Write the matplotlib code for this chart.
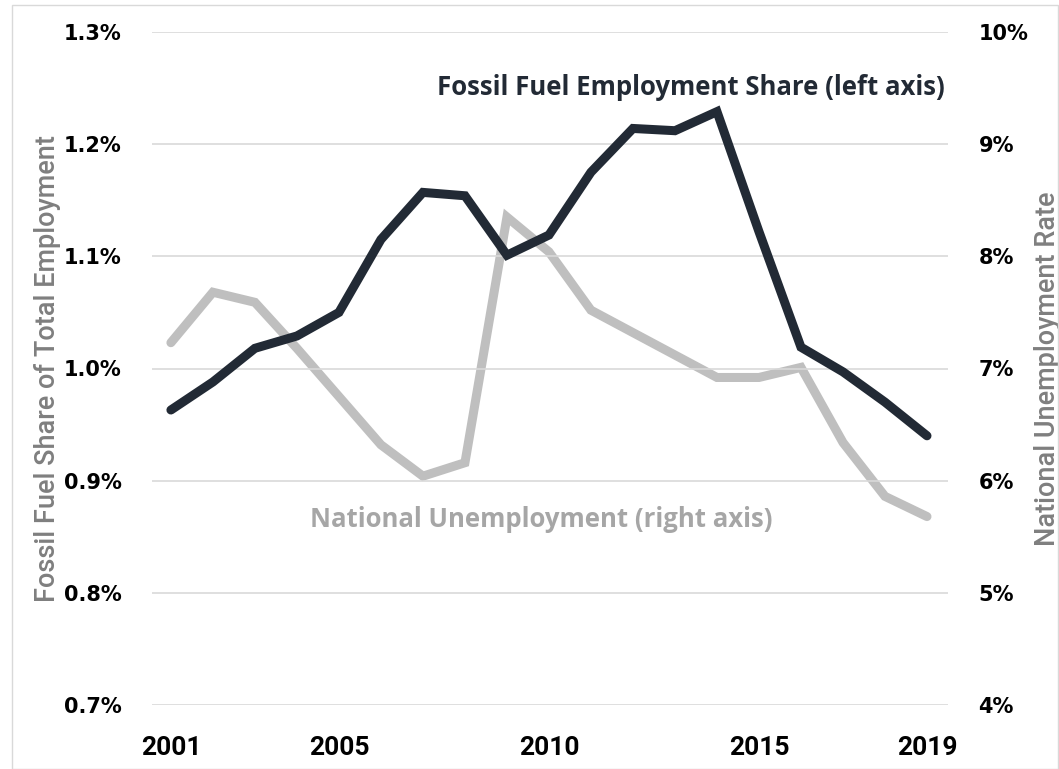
import matplotlib.pyplot as plt
from matplotlib.patches import Rectangle
from matplotlib.ticker import FuncFormatter

# data
years = list(range(2001, 2020))
fossil_share = [0.963, 0.988, 1.018, 1.029, 1.050, 1.115, 1.157, 1.154, 1.101, 1.119,
                1.175, 1.214, 1.212, 1.229, 1.122, 1.019, 0.997, 0.970, 0.940]
unemployment = [7.23, 7.68, 7.59, 7.18, 6.75, 6.32, 6.04, 6.16, 8.35, 8.04,
                7.52, 7.32, 7.12, 6.92, 6.92, 7.01, 6.34, 5.86, 5.68]
xticks = [2001, 2005, 2010, 2015, 2019]
left_ticks = [0.7, 0.8, 0.9, 1.0, 1.1, 1.2, 1.3]
right_ticks = [4, 5, 6, 7, 8, 9, 10]

dark = '#222a35'
light = '#bfbfbf'
label_grey = '#7f7f7f'

fig = plt.figure(figsize=(10.59, 7.69), dpi=100, facecolor='white')
# chart area border
fig.patches.append(Rectangle((12 / 1059, 0), 1 - 13 / 1059, 1 - 5 / 769,
                             transform=fig.transFigure, fill=False,
                             ec='#d9d9d9', lw=1))

ax1 = fig.add_axes([152 / 1059, 1 - 705 / 769, (948 - 152) / 1059, (705 - 32) / 769])
ax2 = ax1.twinx()

ax1.set_xlim(2000.55, 2019.5)
ax1.set_ylim(0.7, 1.3)
ax2.set_ylim(4, 10)

for y in left_ticks:
    ax1.axhline(y, color='#d9d9d9', lw=1.2, zorder=0)

ax2.plot(years, unemployment, color=light, lw=6.5, solid_capstyle='round',
         solid_joinstyle='miter', zorder=2)
ax1.plot(years, fossil_share, color=dark, lw=6.5, solid_capstyle='round',
         solid_joinstyle='miter', zorder=3)
ax1.set_zorder(ax2.get_zorder() + 1)
ax1.patch.set_visible(False)

for a in (ax1, ax2):
    for s in a.spines.values():
        s.set_visible(False)
    a.tick_params(length=0)

ax1.set_yticks(left_ticks)
ax1.yaxis.set_major_formatter(FuncFormatter(lambda v, p: f'{v:.1f}%'))
ax2.set_yticks(right_ticks)
ax2.yaxis.set_major_formatter(FuncFormatter(lambda v, p: f'{v:.0f}%'))
ax1.tick_params(axis='y', pad=22)
ax2.tick_params(axis='y', pad=22)
for lab in ax1.get_yticklabels() + ax2.get_yticklabels():
    lab.set_fontfamily('DejaVu Sans')
    lab.set_fontweight('bold')
    lab.set_fontsize(15)
    lab.set_color('black')

ax1.set_xticks(xticks)
ax1.tick_params(axis='x', pad=22)
for lab in ax1.get_xticklabels():
    lab.set_fontfamily('Roboto')
    lab.set_fontweight('bold')
    lab.set_fontsize(19)
    lab.set_color('black')

ax1.set_ylabel('Fossil Fuel Share of Total Employment', color=label_grey,
               fontsize=19.5, family='Roboto', fontweight='medium', labelpad=2)
ax2.set_ylabel('National Unemployment Rate', color=label_grey,
               fontsize=19.5, family='Roboto', fontweight='medium', labelpad=4)

ax1.text(0.358, 0.918, 'Fossil Fuel Employment Share (left axis)', transform=ax1.transAxes,
         fontsize=18.5, fontweight='bold', family='Open Sans', color=dark,
         ha='left', va='center')
ax1.text(0.1985, 0.275, 'National Unemployment (right axis)', transform=ax1.transAxes,
         fontsize=18.5, fontweight='bold', family='Open Sans', color='#a6a6a6',
         ha='left', va='center')

fig.savefig('out.png', dpi=100)
